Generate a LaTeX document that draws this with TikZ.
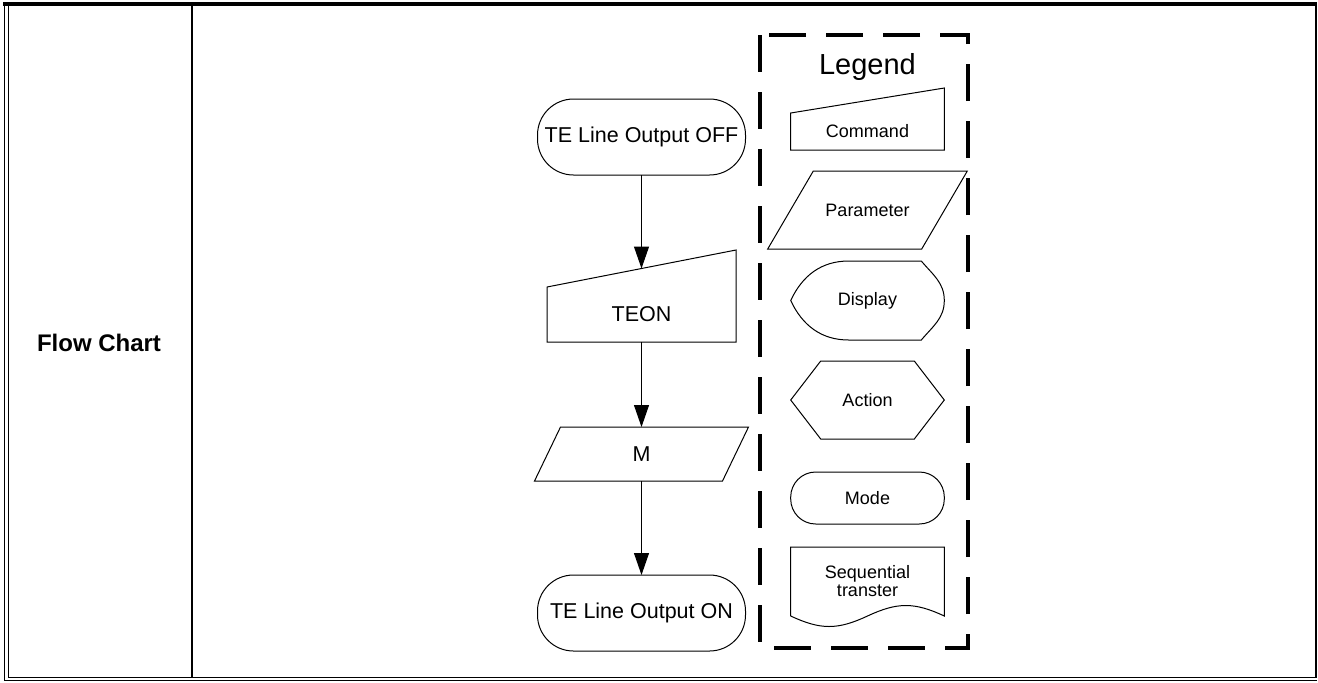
\documentclass[tikz,border=0pt]{standalone}
\usepackage{fontspec}
\setmainfont{Liberation Sans}
\usetikzlibrary{positioning}
\usetikzlibrary{arrows.meta}

\begin{document}
\begin{tikzpicture}[x=0.5pt, y=-0.5pt,
    shapebox/.style={rectangle, inner sep=0pt, outer sep=0pt, align=center},
    term/.style={shapebox, draw, line width=0.5pt, rounded corners=18pt, minimum width=104pt, minimum height=38pt},
    outline/.style={line width=0.5pt, line join=miter},
    flowarrow/.style={line width=0.5pt, -{Triangle[length=11pt,width=7.5pt]}},
    bigtext/.style={font=\fontsize{10.75}{13}\selectfont},
    smalltext/.style={font=\fontsize{9}{9}\selectfont},
    legendbox/.style={line width=2pt, dash pattern=on 18.5pt off 10pt}]

    \useasboundingbox (0,0) rectangle (1318,682);

    % table frame
    \draw[line width=2pt] (3,4) -- (1317,4);
    \draw[line width=0.5pt] (4.5,4) -- (4.5,680.5) -- (1316.5,680.5);
    \draw[line width=0.5pt] (8,4) -- (8,677.5) -- (1315.5,677.5);
    \draw[line width=1pt] (1315.7,4) -- (1315.7,678);
    \draw[line width=0.85pt] (192,4) -- (192,677.5);

    \node[font=\bfseries\fontsize{12}{14}\selectfont] (label) at (99,343) {Flow Chart};

    % flow
    \node[term, bigtext] (off) at (641.5,137) {TE Line Output OFF};
    \node[shapebox, bigtext, minimum width=94.5pt, minimum height=27.5pt, below=56pt of off] (teon) {TEON};
    \draw[outline] (teon.north west) -- (teon.south west) -- (teon.south east) -- ([yshift=18.5pt]teon.north east) -- cycle;
    \node[shapebox, bigtext, minimum width=94pt, minimum height=27pt, below=42.5pt of teon] (m) {M};
    \draw[outline] ([xshift=6.5pt]m.north west) -- ([xshift=6.5pt]m.north east) -- ([xshift=-6.5pt]m.south east) -- ([xshift=-6.5pt]m.south west) -- cycle;
    \node[term, bigtext, below=47pt of m] (on) {TE Line Output ON};

    \draw[flowarrow] (off) -- ([yshift=9.25pt]teon.north);
    \draw[flowarrow] (teon) -- (m);
    \draw[flowarrow] (m) -- (on);

    % legend
    \draw[legendbox] (760,35) rectangle (968,648);
    \node[font=\fontsize{14.5}{16}\selectfont] (legend) at (867.5,67) {Legend};
    \node[shapebox, smalltext, minimum width=76.8pt, minimum height=18.5pt] (cmd) at (867.5,131.5) {Command};
    \draw[outline] (cmd.north west) -- (cmd.south west) -- (cmd.south east) -- ([yshift=12.5pt]cmd.north east) -- cycle;
    \node[shapebox, smalltext, minimum width=77pt, minimum height=39pt, below=10.5pt of cmd] (param) {Parameter};
    \draw[outline] ([xshift=11.4pt]param.north west) -- ([xshift=11.4pt]param.north east) -- ([xshift=-11.4pt]param.south east) -- ([xshift=-11.4pt]param.south west) -- cycle;
    \node[shapebox, smalltext, minimum width=76.8pt, minimum height=39.5pt, below=6pt of param] (disp) {Display};
    \draw[outline] ([xshift=29pt]disp.north west) -- ([xshift=-11.5pt]disp.north east) to[out=-50,in=90] (disp.east) to[out=-90,in=50] ([xshift=-11.5pt]disp.south east) -- ([xshift=29pt]disp.south west) to[out=180,in=-65] (disp.west) to[out=65,in=180] ([xshift=29pt]disp.north west) -- cycle;
    \node[shapebox, smalltext, minimum width=76.8pt, minimum height=39pt, below=10.5pt of disp] (act) {Action};
    \draw[outline] (act.west) -- ([xshift=15pt]act.north west) -- ([xshift=-15pt]act.north east) -- (act.east) -- ([xshift=-15pt]act.south east) -- ([xshift=15pt]act.south west) -- cycle;
    \node[term, smalltext, rounded corners=12.5pt, minimum width=76.8pt, minimum height=26pt, below=16.5pt of act] (mode) {Mode};
    \node[shapebox, smalltext, minimum width=76.8pt, minimum height=34.5pt, below=11.5pt of mode] (seq) {Sequential\\transter};
    \draw[outline] (seq.south west) -- (seq.north west) -- (seq.north east) -- (seq.south east) .. controls +(-15pt,7pt) and +(15pt,7pt) .. (seq.south) .. controls +(-15pt,-7pt) and +(15pt,-7pt) .. (seq.south west);
\end{tikzpicture}
\end{document}
